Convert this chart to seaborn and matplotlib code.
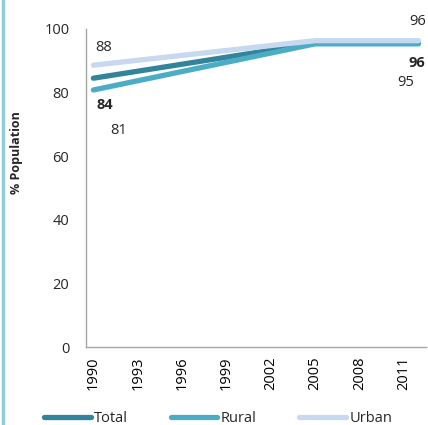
import pandas as pd
import numpy as np
import matplotlib
matplotlib.use("Agg")
import matplotlib.pyplot as plt
from matplotlib.lines import Line2D
import seaborn as sns

# data
years = [1990, 2005, 2012]
total = [84.5, 95.5, 95.5]
rural = [80.8, 95.3, 95.3]
urban = [88.6, 96.3, 96.3]
series = ["Total", "Rural", "Urban"]
colors = ["#31849B", "#4BACC6", "#C6D9F1"]

# data labels: (text, x, y, bold)
labels = [("88", 1990.72, 94.3, False), ("84", 1990.75, 76.1, True), ("81", 1991.73, 68.2, False),
          ("96", 2011.95, 102.2, False), ("96", 2011.9, 89.3, True), ("95", 2011.15, 83.3, False)]

df = pd.DataFrame({"year": years * 3,
                   "value": total + rural + urban,
                   "series": [s for s in series for _ in years]})

sns.set_style("white")
plt.rcParams["font.family"] = ["Open Sans", "DejaVu Sans"]

fig = plt.figure(figsize=(4.28, 4.25), dpi=100)
ax = fig.add_axes([0.201, 0.1835, 0.794, 0.7485])

sns.lineplot(data=df, x="year", y="value", hue="series", hue_order=series,
             palette=colors, linewidth=3.8, legend=False, ax=ax,
             solid_capstyle="round")

ax.set_xlim(1989.5, 2012.5)
ax.set_ylim(0, 100)
ax.set_yticks([0, 20, 40, 60, 80, 100])
ax.set_xticks(list(range(1990, 2013, 3)))
ax.set_xticks(np.arange(1989.5, 2013, 1), minor=True)
ax.tick_params(axis="x", which="major", length=0, rotation=90, labelsize=10.5, pad=7, colors="black")
ax.tick_params(axis="x", which="minor", length=5, width=0.8, color="#a6a6a6", direction="out")
ax.tick_params(axis="y", length=5, width=0.8, color="#a6a6a6", direction="out", labelsize=10.5, pad=7)
ax.set_xlabel("")
ax.set_ylabel("% Population", fontsize=9, fontweight="bold")
ax.yaxis.set_label_coords(-0.185, 0.61)
for s in ["top", "right"]:
    ax.spines[s].set_visible(False)
for s in ["left", "bottom"]:
    ax.spines[s].set_color("#a6a6a6")
    ax.spines[s].set_linewidth(1.0)

for t, x, y, b in labels:
    ax.text(x, y, t, fontsize=10.5, fontweight="bold" if b else "normal",
            ha="center", va="center", clip_on=False)

handles = [Line2D([], [], color=c, linewidth=3.8, solid_capstyle="round") for c in colors]
fig.legend(handles, series, loc="center left", bbox_to_anchor=(44 / 428, 1 - 419 / 425), ncol=3,
           frameon=False, fontsize=10.5, handlelength=3.2, handletextpad=0.25,
           columnspacing=2.9, borderpad=0, borderaxespad=0)

# left border line
fig.add_artist(Line2D([0.007, 0.007], [0, 1], color="#92CDDC", linewidth=2.5))

fig.savefig("out.png", dpi=100)
